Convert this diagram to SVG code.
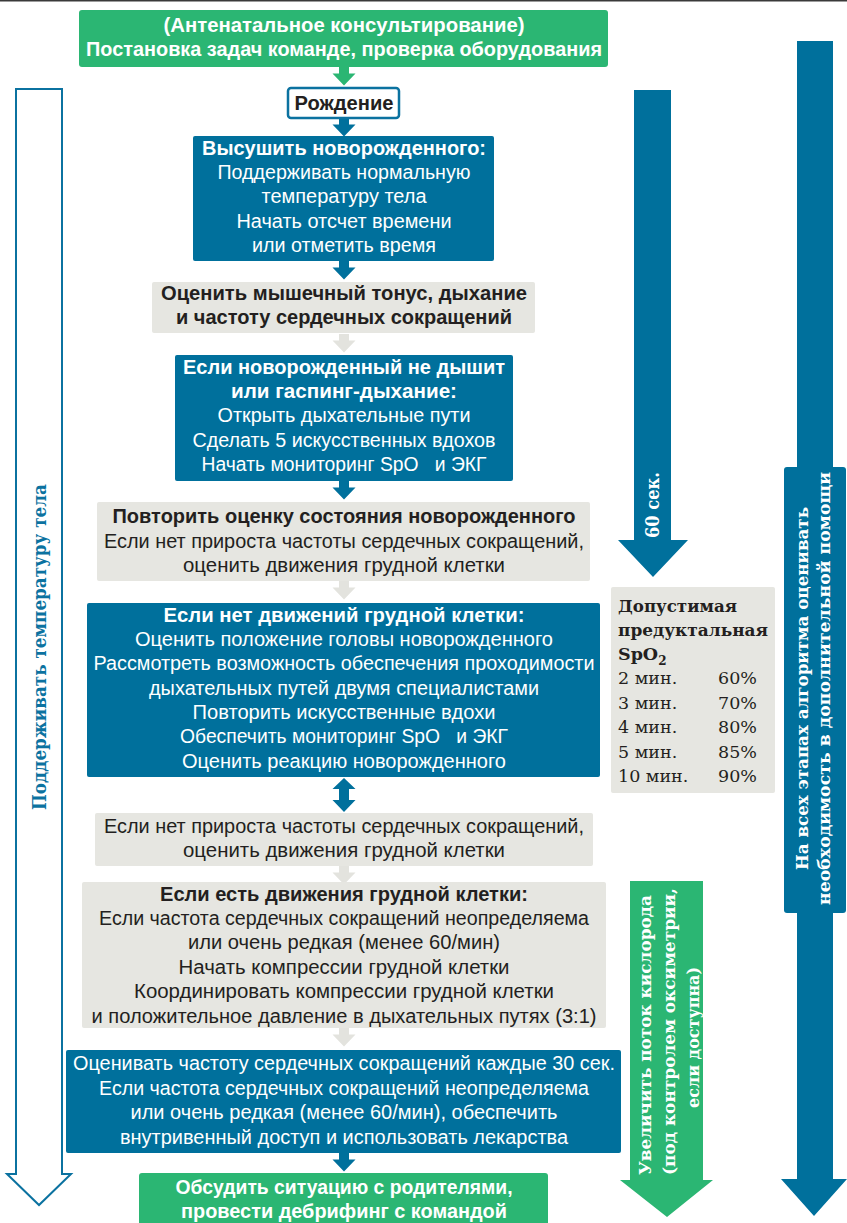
<svg xmlns="http://www.w3.org/2000/svg" width="847" height="1223" viewBox="0 0 847 1223">
<style>
.t{font-family:"Liberation Sans",Arial,sans-serif;font-size:20px;text-anchor:middle}
.b{font-weight:bold}
.w{fill:#ffffff}
.d{fill:#231f20}
.blue{fill:#00709c}
.green{fill:#2bb673}
.gray{fill:#e6e6e1}
.garr{fill:#e3e3de}
.s{font-family:"DejaVu Serif","Liberation Serif",serif;font-weight:bold;font-size:17px;text-anchor:middle}
.sp{font-family:"DejaVu Serif","Liberation Serif",serif;font-size:17.5px;fill:#231f20}
</style>
<defs>
<path id="conn" d="M-5,0 H5 V6.5 H11.5 L0,18.5 L-11.5,6.5 H-5 Z"/>
</defs>
<rect x="0" y="0" width="847" height="1.5" fill="#3a3a3a"/>

<g id="connectors">
<use href="#conn" x="344" y="67" class="green"/>
<use href="#conn" x="344" y="118" class="blue"/>
<use href="#conn" x="344" y="261" class="blue"/>
<use href="#conn" x="344" y="334" class="garr"/>
<use href="#conn" x="344" y="481" class="blue"/>
<use href="#conn" x="344" y="581" class="garr"/>
<path class="blue" d="M344,778 L355.5,789 H349 V800 H355.5 L344,812 L332.5,800 H339 V789 H332.5 Z"/>
<use href="#conn" x="344" y="866" class="garr"/>
<use href="#conn" x="344" y="1028" class="garr"/>
<use href="#conn" x="344" y="1153" class="blue"/>
</g>

<g id="left-arrow">
<path d="M16,89 H62 V1174 H71 L39,1205 L7,1174 H16 Z" fill="#ffffff" stroke="#0b72a0" stroke-width="2"/>
<text class="s" transform="translate(45.5,647) rotate(-90)" style="font-size:18px" fill="#0b72a0" textLength="326" lengthAdjust="spacingAndGlyphs">Поддерживать температуру тела</text>
</g>

<g id="arrow-60">
<path class="blue" d="M634,90 H671 V540 H688 L653,577 L618,540 H634 Z"/>
<text class="s w" transform="translate(658.5,505) rotate(-90)" style="font-size:18px" textLength="66" lengthAdjust="spacingAndGlyphs">60 сек.</text>
</g>

<g id="arrow-help">
<path class="blue" d="M797,41 H833 V1179 H847 L814,1216 L781,1179 H797 Z"/>
<rect class="blue" x="784" y="467" width="62" height="446" rx="3"/>
<text class="s w" transform="translate(807.5,688.5) rotate(-90)" textLength="363" lengthAdjust="spacingAndGlyphs">На всех этапах алгоритма оценивать</text>
<text class="s w" transform="translate(829.5,688.5) rotate(-90)" textLength="433" lengthAdjust="spacingAndGlyphs">необходимость в дополнительной помощи</text>
</g>

<g id="arrow-oxygen">
<path class="green" d="M630,881 H703 V1180 H713 L667,1217 L620,1180 H630 Z"/>
<text class="s w" transform="translate(650.5,1035) rotate(-90)" textLength="280" lengthAdjust="spacingAndGlyphs">Увеличить поток кислорода</text>
<text class="s w" transform="translate(674.5,1031.5) rotate(-90)" textLength="287" lengthAdjust="spacingAndGlyphs">(под контролем оксиметрии,</text>
<text class="s w" transform="translate(698.5,1037.5) rotate(-90)" textLength="141" lengthAdjust="spacingAndGlyphs">если доступна)</text>
</g>

<g id="spo2-box">
<rect class="gray" x="611" y="587" width="164" height="206" rx="2"/>
<text class="sp" x="618" y="612" font-weight="bold" textLength="119" lengthAdjust="spacingAndGlyphs">Допустимая</text>
<text class="sp" x="618" y="636" font-weight="bold" textLength="150" lengthAdjust="spacingAndGlyphs">предуктальная</text>
<text class="sp" x="618" y="660" font-weight="bold">SpO<tspan font-size="12" dy="5">2</tspan></text>
<text class="sp" x="618" y="684">2 мин.</text><text class="sp" x="718" y="684">60%</text>
<text class="sp" x="618" y="709">3 мин.</text><text class="sp" x="718" y="709">70%</text>
<text class="sp" x="618" y="733">4 мин.</text><text class="sp" x="718" y="733">80%</text>
<text class="sp" x="618" y="758">5 мин.</text><text class="sp" x="718" y="758">85%</text>
<text class="sp" x="618" y="782">10 мин.</text><text class="sp" x="718" y="782">90%</text>
</g>

<g id="n-antenatal">
<rect class="green" x="79" y="10" width="529" height="57" rx="3"/>
<text class="t b w" x="344" y="32" textLength="361" lengthAdjust="spacingAndGlyphs">(Антенатальное консультирование)</text>
<text class="t b w" x="344" y="56" textLength="516" lengthAdjust="spacingAndGlyphs">Постановка задач команде, проверка оборудования</text>
</g>

<g id="n-birth">
<rect x="288" y="88" width="111" height="30" rx="3" fill="#ffffff" stroke="#0b72a0" stroke-width="2.5"/>
<text class="t b d" x="344" y="110" textLength="99" lengthAdjust="spacingAndGlyphs">Рождение</text>
</g>

<g id="n-dry">
<rect class="blue" x="193" y="136" width="301" height="125" rx="2"/>
<text class="t b w" x="344" y="155" textLength="284" lengthAdjust="spacingAndGlyphs">Высушить новорожденного:</text>
<text class="t w" x="344" y="179" textLength="253" lengthAdjust="spacingAndGlyphs">Поддерживать нормальную</text>
<text class="t w" x="344" y="203" textLength="165" lengthAdjust="spacingAndGlyphs">температуру тела</text>
<text class="t w" x="344" y="228" textLength="215" lengthAdjust="spacingAndGlyphs">Начать отсчет времени</text>
<text class="t w" x="344" y="252" textLength="184" lengthAdjust="spacingAndGlyphs">или отметить время</text>
</g>

<g id="n-assess">
<rect class="gray" x="152" y="282" width="383" height="51" rx="2"/>
<text class="t b d" x="344" y="300" textLength="366" lengthAdjust="spacingAndGlyphs">Оценить мышечный тонус, дыхание</text>
<text class="t b d" x="344" y="324" textLength="336" lengthAdjust="spacingAndGlyphs">и частоту сердечных сокращений</text>
</g>

<g id="n-notbreathing">
<rect class="blue" x="175" y="355" width="338" height="126" rx="2"/>
<text class="t b w" x="344" y="374" textLength="322" lengthAdjust="spacingAndGlyphs">Если новорожденный не дышит</text>
<text class="t b w" x="344" y="398" textLength="226" lengthAdjust="spacingAndGlyphs">или гаспинг-дыхание:</text>
<text class="t w" x="344" y="422" textLength="253" lengthAdjust="spacingAndGlyphs">Открыть дыхательные пути</text>
<text class="t w" x="344" y="447" textLength="303" lengthAdjust="spacingAndGlyphs">Сделать 5 искусственных вдохов</text>
<text class="t w" x="344" y="471" textLength="285" lengthAdjust="spacingAndGlyphs" xml:space="preserve">Начать мониторинг SpO   и ЭКГ</text>
</g>

<g id="n-reassess">
<rect class="gray" x="97" y="502" width="493" height="79" rx="2"/>
<text class="t b d" x="344" y="523" textLength="463" lengthAdjust="spacingAndGlyphs">Повторить оценку состояния новорожденного</text>
<text class="t d" x="344" y="548" textLength="480" lengthAdjust="spacingAndGlyphs">Если нет прироста частоты сердечных сокращений,</text>
<text class="t d" x="344" y="572" textLength="322" lengthAdjust="spacingAndGlyphs">оценить движения грудной клетки</text>
</g>

<g id="n-nochest">
<rect class="blue" x="87" y="603" width="513" height="174" rx="2"/>
<text class="t b w" x="344" y="622" textLength="361" lengthAdjust="spacingAndGlyphs">Если нет движений грудной клетки:</text>
<text class="t w" x="344" y="646" textLength="418" lengthAdjust="spacingAndGlyphs">Оценить положение головы новорожденного</text>
<text class="t w" x="344" y="670" textLength="501" lengthAdjust="spacingAndGlyphs">Рассмотреть возможность обеспечения проходимости</text>
<text class="t w" x="344" y="695" textLength="390" lengthAdjust="spacingAndGlyphs">дыхательных путей двумя специалистами</text>
<text class="t w" x="344" y="719" textLength="303" lengthAdjust="spacingAndGlyphs">Повторить искусственные вдохи</text>
<text class="t w" x="344" y="743" textLength="328" lengthAdjust="spacingAndGlyphs" xml:space="preserve">Обеспечить мониторинг SpO   и ЭКГ</text>
<text class="t w" x="344" y="768" textLength="324" lengthAdjust="spacingAndGlyphs">Оценить реакцию новорожденного</text>
</g>

<g id="n-noincrease">
<rect class="gray" x="95" y="813" width="498" height="53" rx="2"/>
<text class="t d" x="344" y="833" textLength="480" lengthAdjust="spacingAndGlyphs">Если нет прироста частоты сердечных сокращений,</text>
<text class="t d" x="344" y="857" textLength="322" lengthAdjust="spacingAndGlyphs">оценить движения грудной клетки</text>
</g>

<g id="n-chest">
<rect class="gray" x="82" y="882" width="524" height="146" rx="2"/>
<text class="t b d" x="344" y="901" textLength="368" lengthAdjust="spacingAndGlyphs">Если есть движения грудной клетки:</text>
<text class="t d" x="344" y="925" textLength="490" lengthAdjust="spacingAndGlyphs">Если частота сердечных сокращений неопределяема</text>
<text class="t d" x="344" y="949" textLength="312" lengthAdjust="spacingAndGlyphs">или очень редкая (менее 60/мин)</text>
<text class="t d" x="344" y="974" textLength="331" lengthAdjust="spacingAndGlyphs">Начать компрессии грудной клетки</text>
<text class="t d" x="344" y="998" textLength="420" lengthAdjust="spacingAndGlyphs">Координировать компрессии грудной клетки</text>
<text class="t d" x="344" y="1023" textLength="505" lengthAdjust="spacingAndGlyphs">и положительное давление в дыхательных путях (3:1)</text>
</g>

<g id="n-heartrate">
<rect class="blue" x="66" y="1050" width="555" height="103" rx="2"/>
<text class="t w" x="344" y="1070" textLength="542" lengthAdjust="spacingAndGlyphs">Оценивать частоту сердечных сокращений каждые 30 сек.</text>
<text class="t w" x="344" y="1095" textLength="490" lengthAdjust="spacingAndGlyphs">Если частота сердечных сокращений неопределяема</text>
<text class="t w" x="344" y="1119" textLength="427" lengthAdjust="spacingAndGlyphs">или очень редкая (менее 60/мин), обеспечить</text>
<text class="t w" x="344" y="1144" textLength="448" lengthAdjust="spacingAndGlyphs">внутривенный доступ и использовать лекарства</text>
</g>

<g id="n-debrief">
<rect class="green" x="139" y="1173" width="409" height="60" rx="3"/>
<text class="t b w" x="344" y="1194" textLength="337" lengthAdjust="spacingAndGlyphs">Обсудить ситуацию с родителями,</text>
<text class="t b w" x="344" y="1218" textLength="326" lengthAdjust="spacingAndGlyphs">провести дебрифинг с командой</text>
</g>
</svg>
